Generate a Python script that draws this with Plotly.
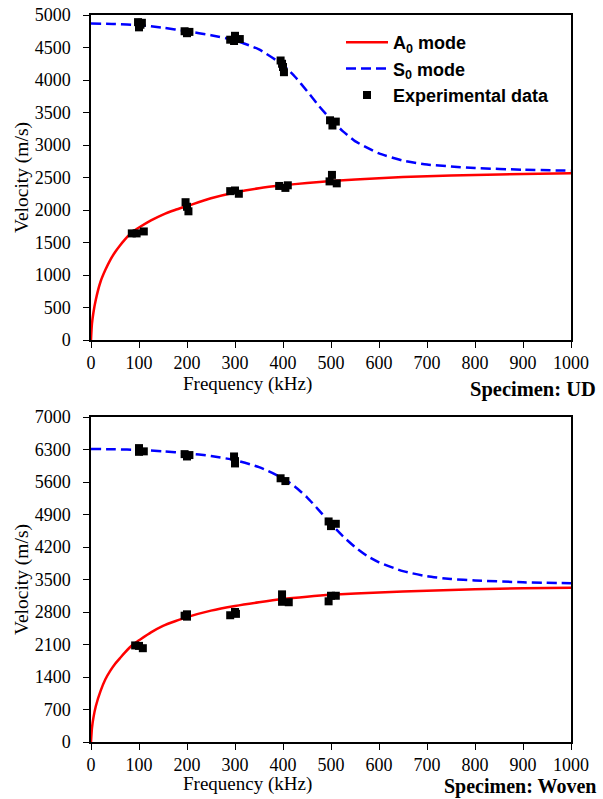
import plotly.graph_objects as go

# ---------------- data ----------------
f_a0 = [0, 2, 5, 10, 20, 30, 40, 50, 60, 70, 80, 90, 100, 125, 150, 175, 200,
        250, 300, 350, 400, 450, 500, 600, 700, 800, 900, 1000]
f_s0 = [0, 50, 100, 150, 200, 250, 300, 350, 400, 425, 450, 475, 500, 525,
        550, 575, 600, 650, 700, 750, 800, 900, 1000]

ud_a0 = [0, 250, 420, 620, 900, 1080, 1230, 1350, 1450, 1540, 1620, 1680, 1730,
         1840, 1930, 2000, 2060, 2180, 2270, 2335, 2380, 2415, 2445, 2490, 2520,
         2540, 2555, 2565]
ud_s0 = [4870, 4862, 4845, 4805, 4750, 4690, 4610, 4470, 4230, 4050, 3830, 3600,
         3390, 3210, 3060, 2960, 2870, 2760, 2700, 2670, 2645, 2620, 2605]

wv_a0 = [0, 300, 520, 770, 1100, 1350, 1530, 1680, 1800, 1920, 2030, 2120, 2190,
         2360, 2500, 2600, 2690, 2830, 2930, 3010, 3080, 3130, 3170, 3220, 3260,
         3290, 3310, 3320]
wv_s0 = [6310, 6305, 6290, 6260, 6220, 6160, 6070, 5920, 5680, 5500, 5270, 4990,
         4700, 4430, 4200, 4010, 3870, 3680, 3570, 3510, 3480, 3440, 3420]

ud_exp_f = [98, 106, 100, 103, 195, 205, 200, 290, 300, 298, 310, 395, 400, 402,
            398, 498, 510, 503,
            85, 95, 110, 197, 200, 203, 290, 300, 308, 392, 405, 410, 497, 502, 512]
ud_exp_v = [4890, 4880, 4810, 4850, 4750, 4740, 4720, 4620, 4680, 4600, 4630,
            4300, 4200, 4120, 4250, 3380, 3360, 3300,
            1640, 1640, 1670, 2120, 2050, 1980, 2290, 2300, 2250, 2370, 2340,
            2380, 2440, 2540, 2410]

wv_exp_f = [100, 110, 100, 195, 200, 205, 298, 300, 300, 395, 405, 495, 500, 510,
            92, 100, 108, 195, 200, 200, 290, 300, 302, 398, 398, 412, 500, 510, 495]
wv_exp_v = [6330, 6260, 6250, 6200, 6150, 6180, 6150, 6050, 6000, 5680, 5620,
            4750, 4650, 4700,
            2080, 2070, 2020, 2720, 2750, 2700, 2730, 2800, 2760, 3180, 3020,
            3010, 3150, 3150, 3030]

x_ticks = list(range(0, 1001, 100))
ud_ticks = list(range(0, 5001, 500))
wv_ticks = list(range(0, 7001, 700))

# ---------------- figure ----------------
RED = "#ff0000"
BLUE = "#0000ff"
serif = "Liberation Serif"
sans = "Liberation Sans"

fig = go.Figure()

def add_panel(xa, ya, a0, s0, ef, ev, show):
    fig.add_trace(go.Scatter(x=f_a0, y=a0, mode="lines", xaxis=xa, yaxis=ya,
                             line=dict(color=RED, width=2.5, shape="spline", smoothing=0.6),
                             name="A<sub>0</sub> mode", showlegend=show))
    fig.add_trace(go.Scatter(x=f_s0, y=s0, mode="lines", xaxis=xa, yaxis=ya,
                             line=dict(color=BLUE, width=2.5, dash="10px,5px",
                                       shape="spline", smoothing=0.6),
                             name="S<sub>0</sub> mode", showlegend=show))
    fig.add_trace(go.Scatter(x=ef, y=ev, mode="markers", xaxis=xa, yaxis=ya,
                             marker=dict(symbol="square", size=8, color="black"),
                             name="Experimental data", showlegend=show))

add_panel("x", "y", ud_a0, ud_s0, ud_exp_f, ud_exp_v, True)
add_panel("x2", "y2", wv_a0, wv_s0, wv_exp_f, wv_exp_v, False)

W, H = 603, 799
xd = [91 / W, 571 / W]
top_d = [1 - 340 / H, 1 - 15 / H]
bot_d = [1 - 742 / H, 1 - 417 / H]

axis_common = dict(showline=True, linecolor="black", linewidth=1.5, mirror=True,
                   ticks="outside", ticklen=6, tickcolor="black", tickwidth=1.2,
                   showgrid=False, zeroline=False, automargin=False,
                   tickfont=dict(family=serif, size=18, color="black"))

fig.update_layout(
    width=W, height=H,
    margin=dict(l=0, r=0, t=0, b=0, pad=0, autoexpand=False),
    paper_bgcolor="white", plot_bgcolor="white",
    xaxis=dict(domain=xd, anchor="y", range=[0, 1000], tickvals=x_ticks, **axis_common),
    yaxis=dict(domain=top_d, anchor="x", range=[0, 5000], tickvals=ud_ticks,
               ticklabelstandoff=9, **axis_common),
    xaxis2=dict(domain=xd, anchor="y2", range=[0, 1000], tickvals=x_ticks, **axis_common),
    yaxis2=dict(domain=bot_d, anchor="x2", range=[0, 7000], tickvals=wv_ticks,
                ticklabelstandoff=9, **axis_common),
    legend=dict(x=341 / W, y=1 - 24 / H, xanchor="left", yanchor="top",
                bgcolor="rgba(255,255,255,0)", itemwidth=42, tracegroupgap=0,
                font=dict(family=sans, size=18, color="black", weight="bold")),
    showlegend=True,
)

def ann(text, x, y, size=19.5, bold=False, xanchor="center", angle=0):
    fig.add_annotation(text=text, x=x / W, y=1 - y / H, xref="paper", yref="paper",
                       showarrow=False, xanchor=xanchor, yanchor="middle", textangle=angle,
                       font=dict(family=serif, size=size, color="black",
                                 weight="bold" if bold else "normal"))

ann("Frequency (kHz)", 247, 384, size=19)
ann("Frequency (kHz)", 247, 784, size=19)
ann("Specimen: UD", 598, 389, size=20.5, bold=True, xanchor="right")
ann("Specimen: Woven", 598, 786, size=20, bold=True, xanchor="right")
ann("Velocity (m/s)", 22, 178, angle=-90)
ann("Velocity (m/s)", 22, 580, angle=-90)

fig.write_html("out.html",
               post_script="document.body.style.margin='0';")
